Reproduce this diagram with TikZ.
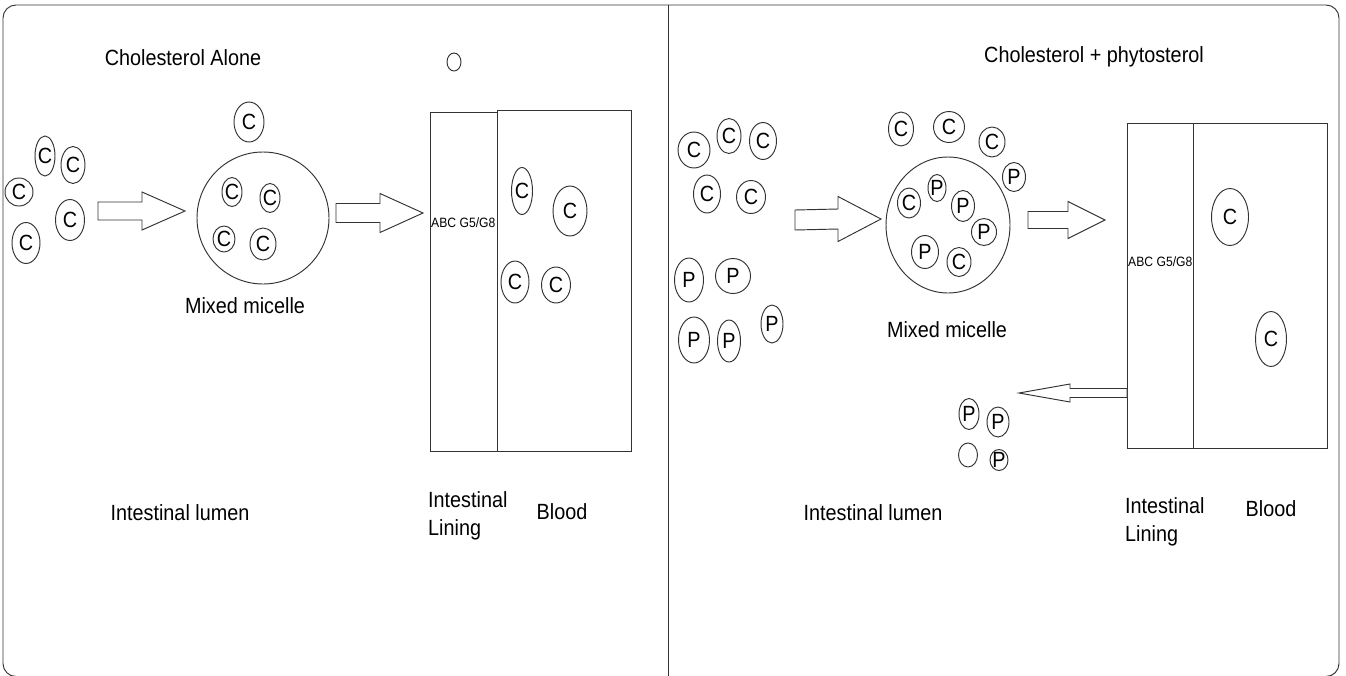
\documentclass[tikz,border=0pt]{standalone}
\usepackage{fontspec}
\setmainfont{Liberation Sans}[FakeStretch=0.9]
\usetikzlibrary{shapes.geometric,calc}

\tikzset{
  ln/.style={draw=black!80, line width=0.95pt},
  molfont/.style={font=\fontsize{22}{26}\selectfont, inner sep=0pt},
  mol/.style={ellipse, ln, inner sep=0pt},
  lbl/.style={font=\fontsize{22}{28}\selectfont, inner sep=0pt},
  smalltxt/.style={font=\fontsize{13.5}{15}\selectfont, inner sep=0pt},
  barrow/.style={ln, fill=white, line join=miter},
  wall/.style={ln, rectangle, inner sep=0pt, anchor=north west}
}
% molecule: name, x, y, width, height, letter
\newcommand\mol[6]{\node[mol, minimum width=#4pt, minimum height=#5pt,
  label={[molfont]center:#6}] (#1) at (#2,#3) {};}
% block arrow: tail, tip, shaft half-height, head half-height, signed head length
\newcommand\blockarrow[5]{%
  \draw[barrow] ($(#1)+(0,#3)$) -- ($(#2)+({-1*(#5)},#3)$) -- ($(#2)+({-1*(#5)},#4)$)
    -- (#2) -- ($(#2)+({-1*(#5)},{-1*(#4)})$) -- ($(#2)+({-1*(#5)},{-1*(#3)})$)
    -- ($(#1)+(0,{-1*(#3)})$) -- cycle;}

\begin{document}
\begin{tikzpicture}[x=1pt,y=-1pt]
\useasboundingbox (0,0) rectangle (1346,675);

% outer frame and panel divider
\draw[ln, rounded corners=13pt] (3,5) rectangle (1339,676.5);
\draw[ln, line width=0.7pt] (668,5) -- (668,676);

% ---------------- left panel: cholesterol alone ----------------
\node[lbl] (titleL) at (183,58) {Cholesterol Alone};
\node[mol, minimum width=14pt, minimum height=18pt] (dotL) at (454,62) {};

\mol{cl1}{45}{156}{20}{40}{C}
\mol{cl2}{73}{165}{24}{37}{C}
\mol{cl3}{19}{192}{28}{28}{C}
\mol{cl4}{70}{220}{29}{41}{C}
\mol{cl5}{26}{243}{28}{41}{C}

\coordinate (a1s) at (98,211);
\coordinate (a1t) at (185,211);
\blockarrow{a1s}{a1t}{9}{19}{43}

\mol{cl6}{249}{122}{30}{40}{C}
\node[ln, circle, minimum size=132pt, inner sep=0pt] (micL) at (263,218) {};
\mol{ml1}{232}{192}{20}{29}{C}
\mol{ml2}{270}{198}{20}{29}{C}
\mol{ml3}{224}{239}{22}{26}{C}
\mol{ml4}{263}{244}{26}{32}{C}
\node[lbl] (micLlbl) at (245,306) {Mixed micelle};

\coordinate (a2s) at (336,213);
\coordinate (a2t) at (423,213);
\blockarrow{a2s}{a2t}{9.5}{19.5}{43}

\node[wall, minimum width=67pt, minimum height=339pt] (liningL) at (430,112) {};
\node[wall, minimum width=134pt, minimum height=341pt] (bloodL) at (497,110) {};
\node[smalltxt, anchor=west] (abcL) at (431,223) {ABC G5/G8};

\mol{bl1}{522}{191}{21}{47}{C}
\mol{bl2}{570}{211}{34}{50}{C}
\mol{bl3}{515}{282}{28}{42}{C}
\mol{bl4}{556}{285}{29}{36}{C}

\node[lbl] (lumenL) at (180,513) {Intestinal lumen};
\node[lbl, align=left, anchor=west] (liningLlbl) at (428,516) {Intestinal\\Lining};
\node[lbl] (bloodLlbl) at (562,512) {Blood};

% ---------------- right panel: cholesterol + phytosterol ----------------
\node[lbl] (titleR) at (1094,57) {Cholesterol + phytosterol};

\mol{cr1}{694}{150}{32}{36}{C}
\mol{cr2}{729}{136}{24}{35}{C}
\mol{cr3}{763}{141}{27}{37}{C}
\mol{cr4}{707}{194}{27}{38}{C}
\mol{cr5}{751}{197}{29}{33}{C}
\mol{pr1}{689}{280}{29}{44}{P}
\mol{pr2}{733}{276}{35}{35}{P}
\mol{pr3}{694}{340}{31}{46}{P}
\mol{pr4}{729}{341}{23}{42}{P}
\mol{pr5}{772}{324}{22}{38}{P}

\coordinate (a3s) at (795,220);
\coordinate (a3t) at (881,219);
\blockarrow{a3s}{a3t}{10}{22.5}{43}

\mol{cr6}{901}{129}{25}{34}{C}
\mol{cr7}{949}{127}{31}{31}{C}
\mol{cr8}{992}{142}{26}{30}{C}
\mol{pr6}{1014}{177}{23}{29}{P}

\node[mol, minimum width=124pt, minimum height=136pt] (micR) at (948,225) {};
\mol{mr1}{909}{203}{23}{30}{C}
\mol{mr2}{937}{188}{18}{27}{P}
\mol{mr3}{963}{206}{23}{31}{P}
\mol{mr4}{984}{232}{25}{27}{P}
\mol{mr5}{925}{252}{27}{33}{P}
\mol{mr6}{959}{262}{24}{29}{C}
\node[lbl] (micRlbl) at (947,330) {Mixed micelle};

\coordinate (a4s) at (1028,220);
\coordinate (a4t) at (1105,220);
\blockarrow{a4s}{a4t}{8.5}{18.5}{37}

\node[wall, minimum width=66pt, minimum height=325pt] (liningR) at (1127,123) {};
\node[wall, minimum width=134pt, minimum height=325pt] (bloodR) at (1193,123) {};
\node[smalltxt, anchor=west] (abcR) at (1128,262) {ABC G5/G8};

\mol{br1}{1230}{217}{37}{57}{C}
\mol{br2}{1271}{339}{31}{55}{C}

% efflux of phytosterol back to the lumen
\coordinate (a5s) at (liningR.west |- 0,393);
\coordinate (a5t) at (1019,393);
\blockarrow{a5s}{a5t}{4.5}{9}{-51}

\mol{pr7}{969}{414}{20}{31}{P}
\mol{pr8}{998}{422}{22}{30}{P}
\node[mol, minimum width=19pt, minimum height=24pt] (dotR) at (968,455) {};
\mol{pr9}{999}{460}{18}{21}{P}

\node[lbl] (lumenR) at (873,513) {Intestinal lumen};
\node[lbl, align=left, anchor=west] (liningRlbl) at (1125,522) {Intestinal\\Lining};
\node[lbl] (bloodRlbl) at (1271,509) {Blood};
\end{tikzpicture}
\end{document}
